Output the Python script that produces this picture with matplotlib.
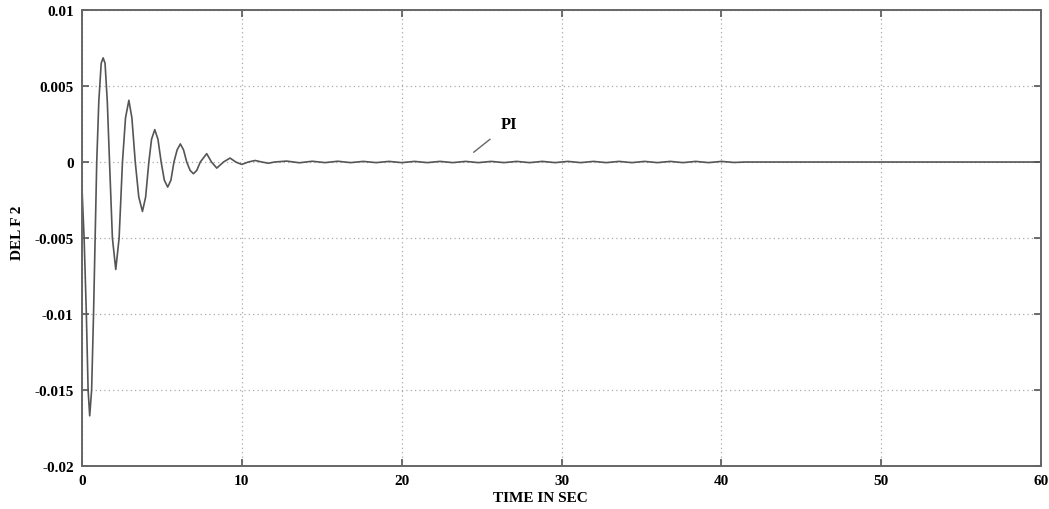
import matplotlib
matplotlib.use("Agg")
import matplotlib.pyplot as plt

# Values (time in s, DEL F2)
t_main = [0.0, 0.13, 0.27, 0.38, 0.48, 0.60, 0.72, 0.82, 0.92, 1.05, 1.20, 1.32,
          1.44, 1.58, 1.72, 1.90, 2.11, 2.32, 2.53, 2.72, 2.93, 3.12, 3.33, 3.55,
          3.78, 3.98, 4.18, 4.35, 4.55, 4.75, 4.95, 5.15, 5.36, 5.56, 5.75, 5.95,
          6.15, 6.35, 6.55, 6.76, 6.97, 7.18, 7.40, 7.80, 8.10, 8.43, 8.85, 9.26,
          9.62, 9.99, 10.40, 10.83, 11.25, 11.66, 12.05]
v_main = [-0.0018, -0.0050, -0.0100, -0.0150, -0.0167, -0.0150, -0.0100, -0.0050,
          0.0, 0.0040, 0.0065, 0.00685, 0.0065, 0.0040, 0.0, -0.0050, -0.00707,
          -0.0050, 0.0, 0.0029, 0.00406, 0.0029, 0.0, -0.0023, -0.00325, -0.0023,
          0.0, 0.0015, 0.00213, 0.0015, 0.0, -0.0012, -0.00165, -0.0012, 0.0,
          0.0008, 0.00119, 0.0008, 0.0, -0.00055, -0.00077, -0.00055, 0.0, 0.00055,
          0.0, -0.00040, 0.0, 0.00026, 0.0, -0.00016, 0.0, 0.00010, 0.0, -0.00008, 0.0]

t_ripple = [12.8, 13.6, 14.4, 15.2, 16.0, 16.8, 17.6, 18.4, 19.2, 20.0, 20.8, 21.6,
            22.4, 23.2, 24.0, 24.8, 25.6, 26.4, 27.2, 28.0, 28.8, 29.6, 30.4, 31.2,
            32.0, 32.8, 33.6, 34.4, 35.2, 36.0, 36.8, 37.6, 38.4, 39.2, 40.0, 40.8,
            41.5, 60.0]
v_ripple = [0.00006, -0.00005, 0.00005, -0.00004, 0.00005, -0.00004, 0.00004, -0.00004,
            0.00004, -0.00004, 0.00004, -0.00004, 0.00004, -0.00004, 0.00004, -0.00004,
            0.00004, -0.00004, 0.00004, -0.00004, 0.00004, -0.00004, 0.00004, -0.00004,
            0.00004, -0.00004, 0.00004, -0.00004, 0.00004, -0.00004, 0.00004, -0.00004,
            0.00004, -0.00004, 0.00004, -0.00003, 0.0, 0.0]

x_ticks = [0, 10, 20, 30, 40, 50, 60]
x_ticklabels = ["0", "10", "20", "30", "40", "50", "60"]
y_ticks = [-0.02, -0.015, -0.01, -0.005, 0, 0.005, 0.01]
y_ticklabels = ["-0.02", "-0.015", "-0.01", "-0.005", "0", "0.005", "0.01"]

t_all = t_main + t_ripple
v_all = v_main + v_ripple

plt.rcParams['font.family'] = ['Liberation Serif', 'DejaVu Serif']
fig = plt.figure(figsize=(10.49, 5.10), dpi=100)
ax = fig.add_axes([0.0782, 0.0843, 0.9142, 0.8941])

ax.plot(t_all, v_all, color='#555555', linewidth=1.2)

ax.set_xlim(0, 60)
ax.set_ylim(-0.02, 0.01)
ax.set_xticks(x_ticks)
ax.set_xticklabels(x_ticklabels, fontweight='bold', fontsize=11)
ax.set_yticks(y_ticks)
ax.set_yticklabels(y_ticklabels, fontweight='bold', fontsize=11)
ax.tick_params(direction='in', length=5, width=1.2, color='#555555',
               top=True, right=True, pad=6)
ax.grid(True, linestyle=(0, (1, 2.5)), color='#aaaaaa', linewidth=0.9)
for s in ax.spines.values():
    s.set_color('#666666')
    s.set_linewidth(1.4)

ax.set_xlabel('TIME IN SEC', fontweight='bold', fontsize=11)
ax.xaxis.set_label_coords(0.478, -0.055)
ax.set_ylabel('DEL F 2', fontweight='bold', fontsize=11)
ax.yaxis.set_label_coords(-0.06, 0.513)

ax.annotate('PI', xy=(24.5, 0.00064), xytext=(26.7, 0.00248),
            fontsize=12, fontweight='bold', ha='center', va='center',
            arrowprops=dict(arrowstyle='-', color='#666666', lw=1.0,
                            shrinkA=7, shrinkB=0))

fig.savefig('out.png', dpi=100)
